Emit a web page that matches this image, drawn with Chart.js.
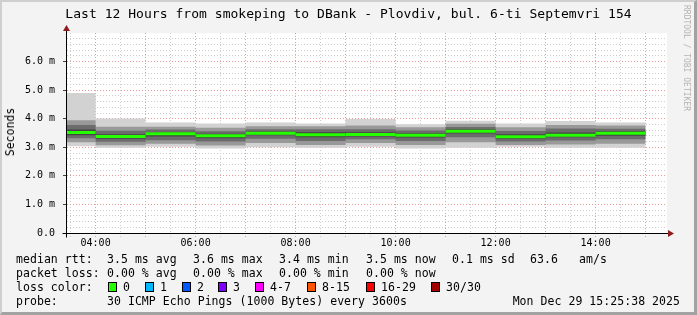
<!DOCTYPE html>
<html>
<head>
<meta charset="utf-8">
<script src="https://cdn.jsdelivr.net/npm/chart.js@4/dist/chart.umd.min.js"></script>
<style>
  html, body { margin: 0; padding: 0; }
  body { width: 697px; height: 315px; background: #f3f3f3; position: relative; overflow: hidden;
         font-family: "DejaVu Sans Mono", monospace; color: #000; }
  #frame { position: absolute; left: 0; top: 0; width: 697px; height: 315px; box-sizing: border-box;
           border-top: 2px solid #cfcfcf; border-left: 2px solid #cfcfcf;
           border-right: 3px solid #a2a2a2; border-bottom: 3px solid #a2a2a2; }
  canvas { position: absolute; left: 0; top: 0; }
  .t { position: absolute; white-space: pre; }
  #title { left: 0; width: 697px; top: 7px; text-align: center; font-size: 13px; line-height: 13px; letter-spacing: 0.04px; }
  #ylab { left: 10px; top: 132px; font-size: 11.5px; line-height: 12px; transform: translate(-50%, -50%) rotate(-90deg); }
  #wm { left: 682px; top: 5px; writing-mode: vertical-rl; font-size: 8px; color: #b4b4b4; }
  .lg { font-size: 11.5px; line-height: 14px; letter-spacing: 0.05px; }
  .box { position: absolute; width: 7px; height: 8px; border: 1px solid #000; top: 282px; }
</style>
</head>
<body>
<div id="frame"></div>
<canvas id="c" width="697" height="315"></canvas>
<div class="t" id="title">Last 12 Hours from smokeping to DBank - Plovdiv, bul. 6-ti Septemvri 154</div>
<div class="t" id="ylab">Seconds</div>
<div class="t" id="wm">RRDTOOL / TOBI OETIKER</div>
<div id="legend"></div>
<script>
// rrd step end times (hours of the day), one value per 1h step
const stepEnd = [4, 5, 6, 7, 8, 9, 10, 11, 12, 13, 14, 15];
// round trip times in ms
const median = [3.52, 3.38, 3.47, 3.40, 3.49, 3.44, 3.45, 3.42, 3.56, 3.37, 3.42, 3.49];
const rttMax = [4.90, 4.01, 3.87, 3.83, 3.87, 3.83, 3.99, 3.81, 3.93, 3.83, 3.92, 3.87];
const rttP90 = [3.95, 3.72, 3.72, 3.68, 3.74, 3.74, 3.76, 3.70, 3.82, 3.70, 3.78, 3.76];
const rttP75 = [3.78, 3.58, 3.62, 3.56, 3.63, 3.63, 3.63, 3.59, 3.71, 3.57, 3.66, 3.65];
const rttP60 = [3.62, 3.46, 3.53, 3.47, 3.55, 3.53, 3.53, 3.49, 3.63, 3.46, 3.52, 3.56];
const rttP40 = [3.42, 3.30, 3.38, 3.32, 3.42, 3.35, 3.38, 3.34, 3.48, 3.30, 3.35, 3.40];
const rttP25 = [3.32, 3.19, 3.25, 3.20, 3.30, 3.22, 3.28, 3.22, 3.35, 3.20, 3.24, 3.28];
const rttP10 = [3.18, 3.07, 3.12, 3.06, 3.15, 3.08, 3.15, 3.08, 3.18, 3.08, 3.10, 3.12];
const rttMin = [3.04, 2.98, 3.02, 2.96, 3.00, 2.98, 3.02, 2.96, 2.98, 3.02, 2.98, 2.98];

const xRange = [3.428, 15.428];       // 03:25:38 .. 15:25:38
const xLabelHours = [4, 6, 8, 10, 12, 14];
const xLabels = ['04:00', '06:00', '08:00', '10:00', '12:00', '14:00'];
const yMajor = [0, 1, 2, 3, 4, 5, 6];
const yLabels = ['0.0', '1.0 m', '2.0 m', '3.0 m', '4.0 m', '5.0 m', '6.0 m'];
const yMax = 7;

const legendRows = [
  { y: 252, items: [[16, 'median rtt:'], [107, '3.5 ms avg'], [193, '3.6 ms max'], [279, '3.4 ms min'], [366, '3.5 ms now'], [452, '0.1 ms sd'], [530, '63.6'], [579, 'am/s']] },
  { y: 266, items: [[16, 'packet loss:'], [107, '0.00 % avg'], [193, '0.00 % max'], [279, '0.00 % min'], [366, '0.00 % now']] },
  { y: 280, items: [[16, 'loss color:']] },
  { y: 294, items: [[16, 'probe:'], [107, '30 ICMP Echo Pings (1000 Bytes) every 3600s']] }
];
const lossLabels = ['0', '1', '2', '3', '4-7', '8-15', '16-29', '30/30'];
const lossColors = ['#26ff00', '#00b8ff', '#0059ff', '#7e00ff', '#ff00ff', '#ff5500', '#ff0000', '#a10000'];
const lossBoxX = [108, 145, 182, 218, 255, 307, 366, 431];
const stamp = 'Mon Dec 29 15:25:38 2025';

// legend text
const lg = document.getElementById('legend');
legendRows.forEach(r => r.items.forEach(([x, s]) => {
  const d = document.createElement('div');
  d.className = 't lg'; d.style.left = x + 'px'; d.style.top = r.y + 'px'; d.textContent = s;
  lg.appendChild(d);
}));
lossLabels.forEach((s, i) => {
  const b = document.createElement('div');
  b.className = 'box'; b.style.left = lossBoxX[i] + 'px'; b.style.background = lossColors[i];
  lg.appendChild(b);
  const d = document.createElement('div');
  d.className = 't lg'; d.style.left = (lossBoxX[i] + 15) + 'px'; d.style.top = '280px'; d.textContent = s;
  lg.appendChild(d);
});
const st = document.createElement('div');
st.className = 't lg'; st.style.right = '17px'; st.style.top = '294px'; st.textContent = stamp;
lg.appendChild(st);

// tick positions: half hours on x, 0.2 ms on y
const xTicks = [];
for (let h = 3.5; h <= 15; h += 0.5) xTicks.push(h);
const yTicks = [];
yMajor.forEach(v => { for (let k = 0; k < 5; k++) yTicks.push(+(v + k * 0.2).toFixed(1)); });

const isWhole = v => Math.abs(v - Math.round(v)) < 1e-6;
const gridColor = ctx => (ctx.tick && isWhole(ctx.tick.value)) ? '#eb9a9a' : '#cdcdcd';

// each rrd value holds for the hour ending at its timestamp
const steps = arr => stepEnd.flatMap((t, i) => [{ x: t - 1, y: arr[i] }, { x: t, y: arr[i] }]);
const edge = arr => ({ label: 'edge', data: steps(arr), borderWidth: 0, pointRadius: 0, fill: false, clip: 0 });
const band = (hi, color) => ({ label: 'smoke', data: steps(hi), borderWidth: 0, pointRadius: 0,
  fill: { target: '+1' }, backgroundColor: color, clip: 0 });

const plotBg = {
  id: 'plotBg',
  beforeDraw(chart) {
    const { ctx, chartArea: a } = chart;
    ctx.save(); ctx.fillStyle = '#fff';
    ctx.fillRect(a.left, a.top, a.right - a.left, a.bottom - a.top);
    ctx.restore();
  },
  afterDraw(chart) {
    const { ctx, chartArea: a } = chart;
    const x0 = Math.round(a.left) - 0.5, y0 = Math.round(a.bottom) + 0.5;
    ctx.save();
    ctx.strokeStyle = '#000'; ctx.lineWidth = 1;
    ctx.beginPath();
    ctx.moveTo(x0 - 4, y0); ctx.lineTo(a.right + 4, y0);
    ctx.moveTo(x0, y0 + 4); ctx.lineTo(x0, a.top - 3);
    ctx.stroke();
    ctx.fillStyle = '#8e1c1c';
    ctx.beginPath();
    ctx.moveTo(a.right + 1, y0 - 3.5); ctx.lineTo(a.right + 7, y0); ctx.lineTo(a.right + 1, y0 + 3.5);
    ctx.fill();
    ctx.beginPath();
    ctx.moveTo(x0 - 3.5, a.top - 2); ctx.lineTo(x0, a.top - 8); ctx.lineTo(x0 + 3.5, a.top - 2);
    ctx.fill();
    ctx.restore();
  }
};

new Chart(document.getElementById('c'), {
  type: 'line',
  data: {
    datasets: [
      {
        label: 'median rtt', data: steps(median),
        borderColor: '#26ff00', borderWidth: 3, pointRadius: 0, fill: false, clip: 0,
        borderCapStyle: 'butt',
        segment: { borderColor: c => c.p0.parsed.x === c.p1.parsed.x ? 'rgba(0,0,0,0)' : undefined }
      },
      band(rttP60, '#444444'), edge(rttP40),
      band(rttP75, '#6c6c6c'), edge(rttP25),
      band(rttP90, '#999999'), edge(rttP10),
      band(rttMax, '#d2d2d2'), edge(rttMin)
    ]
  },
  options: {
    responsive: false, animation: false, devicePixelRatio: 1,
    layout: { padding: { left: 0, top: 33, right: 30, bottom: 0 } },
    plugins: { legend: { display: false }, tooltip: { enabled: false } },
    scales: {
      x: {
        type: 'linear', min: xRange[0], max: xRange[1],
        afterFit: s => { s.height = 82; },
        afterBuildTicks: s => { s.ticks = xTicks.map(v => ({ value: v })); },
        grid: { color: gridColor, tickColor: gridColor, lineWidth: 1, tickLength: 4, tickBorderDash: [1, 2] },
        border: { display: false, dash: [1, 2] },
        ticks: {
          autoSkip: false, maxRotation: 0, padding: 0, color: '#000',
          font: { family: 'DejaVu Sans Mono', size: 10 },
          callback: v => { const i = xLabelHours.findIndex(h => Math.abs(h - v) < 1e-6); return i < 0 ? '' : xLabels[i]; }
        }
      },
      y: {
        min: 0, max: yMax,
        afterFit: s => { s.width = 67; },
        afterBuildTicks: s => { s.ticks = yTicks.map(v => ({ value: v })); },
        grid: { color: gridColor, tickColor: c => (c.tick && isWhole(c.tick.value)) ? '#444' : 'rgba(0,0,0,0)', lineWidth: 1, tickLength: 4 },
        border: { display: false, dash: [1, 2] },
        ticks: {
          autoSkip: false, padding: 8, color: '#000',
          font: { family: 'DejaVu Sans Mono', size: 10 },
          callback: v => { const i = yMajor.findIndex(m => Math.abs(m - v) < 1e-6); return i < 0 ? '' : yLabels[i]; }
        }
      }
    }
  },
  plugins: [plotBg]
});
</script>
</body>
</html>
